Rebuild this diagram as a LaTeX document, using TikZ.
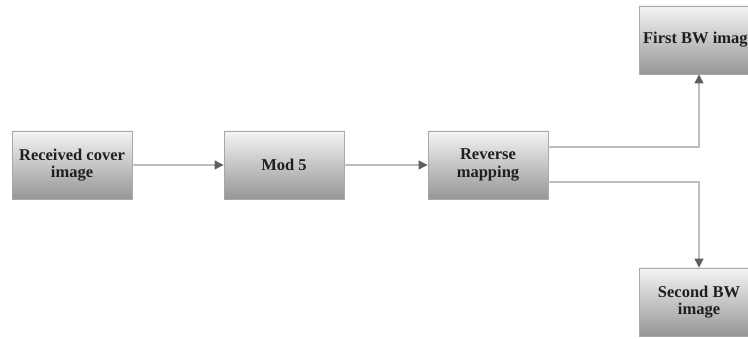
\documentclass[tikz,border=0pt]{standalone}
\usepackage{fontspec}
\setmainfont{Liberation Serif}
\usetikzlibrary{arrows.meta}

\definecolor{boxtop}{HTML}{F4F4F4}
\definecolor{boxbot}{HTML}{969696}
\definecolor{boxedge}{HTML}{A8A8A8}
\definecolor{wire}{HTML}{BDBDBD}
\definecolor{tipgray}{HTML}{5E5E5E}

\tikzset{
  block/.style={draw=boxedge, line width=0.9pt, top color=boxtop, bottom color=boxbot,
    minimum width=120pt, minimum height=68pt, inner sep=2pt, align=center,
    font=\fontsize{16.5}{17.5}\selectfont\bfseries, text=black!88},
  wireline/.style={draw=wire, line width=1.1pt},
  flow/.style={wireline, -{Triangle[length=9pt,width=9pt,fill=tipgray,color=tipgray]}}
}

\begin{document}
\begin{tikzpicture}[x=1pt,y=-1pt]
  \useasboundingbox (0,0) rectangle (748,339);

  \node[block] (rc)  at (72,165)  {Received cover\\image};
  \node[block] (mod) at (284,165) {Mod 5};
  \node[block] (rm)  at (488,165) {Reverse\\mapping};
  \node[block] (fbw) at (699,40)  {First BW image};
  \node[block] (sbw) at (699,302) {Second BW\\image};

  \draw[flow] (rc) -- (mod);
  \draw[flow] (mod) -- (rm);
  \draw[flow] ([yshift=18pt]rm.east) -| (fbw.south);
  \draw[flow] ([yshift=-17pt]rm.east) -| (sbw.north);
\end{tikzpicture}
\end{document}
